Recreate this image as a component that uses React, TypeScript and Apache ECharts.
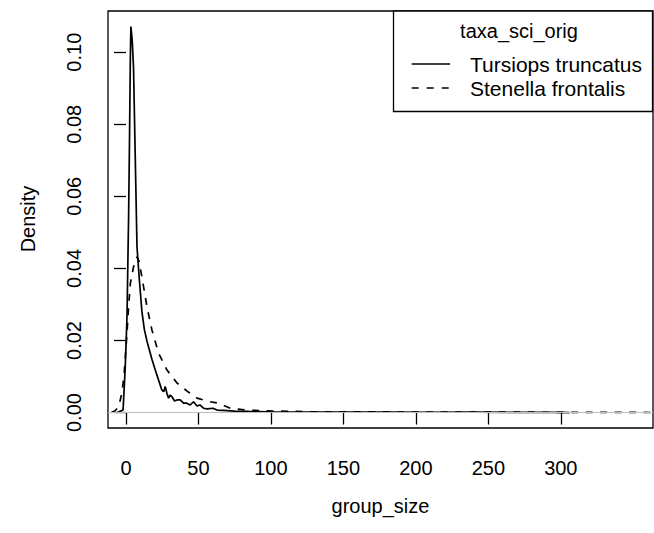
import React, { useEffect, useRef } from "react";
import * as echarts from "echarts";

// Kernel density estimates
const tursiopsX = [-6, -2, -0.5, 0.7, 1.8, 2.5, 3.0, 3.4, 4.3, 5.2, 6.4, 7.6, 9.2, 11, 12.7, 14.5, 17.9, 20.2, 22.5, 24.8, 26, 27.1, 28.3, 29.4, 30.5, 31.7, 33.5, 35.2, 37.4, 39.7, 42, 44.3, 46.6, 49, 51, 53.5, 56, 60, 62.8, 67, 75, 85, 100, 120, 150, 180, 210, 240, 270, 300, 306];
const tursiopsY = [0, 0.0007, 0.0126, 0.0265, 0.054, 0.078, 0.098, 0.1071, 0.1033, 0.0958, 0.071, 0.046, 0.037, 0.028, 0.023, 0.0198, 0.0148, 0.0118, 0.009, 0.0062, 0.0058, 0.0072, 0.0052, 0.004, 0.0048, 0.0044, 0.0032, 0.0035, 0.0035, 0.0026, 0.0026, 0.0021, 0.003, 0.0018, 0.0021, 0.0012, 0.001, 0.0012, 0.0007, 0.0006, 0.0004, 0.0003, 0.0002, 0.00015, 0.0001, 0.0001, 0.00008, 0.0001, 0.00006, 0.00004, 0];

const stenellaX = [-10, -7.5, -5.1, -2.8, -1.2, 0.7, 1.8, 3, 5.2, 7.6, 9, 11, 14.5, 17.9, 22.5, 28.3, 35.2, 42, 49, 58, 64, 72, 83, 95, 106, 129, 150, 164, 190, 220, 250, 280, 310, 340, 363.6];
const stenellaY = [0, 0.0005, 0.0016, 0.0054, 0.011, 0.022, 0.0293, 0.0358, 0.0404, 0.0432, 0.042, 0.0376, 0.0293, 0.0229, 0.0165, 0.0118, 0.0082, 0.006, 0.004, 0.003, 0.0026, 0.0012, 0.0007, 0.0005, 0.0004, 0.0002, 0.0002, 0.0002, 0.00015, 0.0001, 0.0001, 0.0001, 0.00005, 0.00003, 0.00002];

const xTicks = [0, 50, 100, 150, 200, 250, 300];
const yTicks = [0, 0.02, 0.04, 0.06, 0.08, 0.1];
const seriesNames = ["Tursiops truncatus", "Stenella frontalis"];
const legendTitle = "taxa_sci_orig";
const xTitle = "group_size";
const yTitle = "Density";

const FONT = "'Liberation Sans', Arial, Helvetica, sans-serif";

export default function App() {
  const ref = useRef<HTMLDivElement>(null);
  useEffect(() => {
    if (!ref.current) return;
    const chart = echarts.init(ref.current, null, { renderer: "svg" });
    const zip = (xs: number[], ys: number[]) => xs.map((x, i) => [x, ys[i]]);
    const legX = 393.5, legY = 11, legW = 259, legH = 100.5;
    chart.setOption({
      animation: false,
      backgroundColor: "#fff",
      textStyle: { fontFamily: FONT },
      grid: {
        left: 108,
        top: 11,
        right: 1,
        bottom: 105,
        show: true,
        borderColor: "#000",
        borderWidth: 1.3,
        containLabel: false,
      },
      xAxis: {
        type: "value",
        min: -12.4,
        max: 363.6,
        axisLine: { show: false },
        splitLine: { show: false },
        axisTick: {
          show: true,
          length: 12,
          customValues: xTicks,
          lineStyle: { color: "#000", width: 1.3 },
        },
        axisLabel: {
          customValues: xTicks,
          margin: 30,
          fontSize: 20,
          color: "#000",
          fontFamily: FONT,
        },
      },
      yAxis: {
        type: "value",
        min: -0.0042857,
        max: 0.1114286,
        axisLine: { show: false },
        splitLine: { show: false },
        axisTick: {
          show: true,
          length: 12,
          customValues: yTicks,
          lineStyle: { color: "#000", width: 1.3 },
        },
        axisLabel: {
          customValues: yTicks,
          rotate: 90,
          margin: 24,
          fontSize: 20,
          color: "#000",
          fontFamily: FONT,
          formatter: (v: number) => v.toFixed(2),
        },
      },
      series: [
        {
          type: "line",
          name: "zero",
          data: [],
          z: 1,
          markLine: {
            silent: true,
            symbol: "none",
            label: { show: false },
            lineStyle: { color: "#bebebe", type: "solid", width: 1.2 },
            data: [{ yAxis: 0 }],
          },
        },
        {
          type: "line",
          name: seriesNames[0],
          data: zip(tursiopsX, tursiopsY),
          showSymbol: false,
          z: 3,
          lineStyle: { color: "#000", width: 1.7, type: "solid" },
        },
        {
          type: "line",
          name: seriesNames[1],
          data: zip(stenellaX, stenellaY),
          showSymbol: false,
          z: 2,
          lineStyle: { color: "#000", width: 1.7, type: [7, 7.5] },
        },
      ],
      graphic: [
        {
          type: "text",
          x: 28,
          y: 219,
          rotation: Math.PI / 2,
          style: {
            text: yTitle,
            fontSize: 20,
            fontFamily: FONT,
            fill: "#000",
            align: "center",
            verticalAlign: "middle",
          },
        },
        {
          type: "text",
          x: 380.5,
          y: 506,
          style: {
            text: xTitle,
            fontSize: 20,
            fontFamily: FONT,
            fill: "#000",
            align: "center",
            verticalAlign: "middle",
          },
        },
        {
          type: "group",
          z: 10,
          children: [
            {
              type: "rect",
              shape: { x: legX, y: legY, width: legW, height: legH },
              style: { fill: "#fff", stroke: "#000", lineWidth: 1.3 },
            },
            {
              type: "text",
              x: 519,
              y: 31,
              style: {
                text: legendTitle,
                fontSize: 20,
                fontFamily: FONT,
                fill: "#000",
                align: "center",
                verticalAlign: "middle",
              },
            },
            {
              type: "line",
              shape: { x1: 411.7, y1: 64, x2: 450, y2: 64 },
              style: { stroke: "#000", lineWidth: 1.7 },
            },
            {
              type: "text",
              x: 470,
              y: 64,
              style: {
                text: seriesNames[0],
                fontSize: 21,
                fontFamily: FONT,
                fill: "#000",
                align: "left",
                verticalAlign: "middle",
              },
            },
            {
              type: "line",
              shape: { x1: 411.7, y1: 88, x2: 450, y2: 88 },
              style: { stroke: "#000", lineWidth: 1.7, lineDash: [7, 8] },
            },
            {
              type: "text",
              x: 470,
              y: 88,
              style: {
                text: seriesNames[1],
                fontSize: 21,
                fontFamily: FONT,
                fill: "#000",
                align: "left",
                verticalAlign: "middle",
              },
            },
          ],
        },
      ],
    });
    return () => chart.dispose();
  }, []);
  return (
    <div
      ref={ref}
      style={{ position: "absolute", left: 0, top: 0, width: 654, height: 533 }}
    />
  );
}
